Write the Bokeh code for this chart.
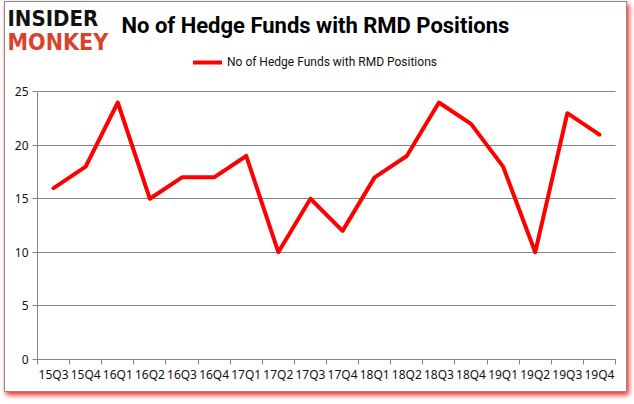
from bokeh.plotting import figure
from bokeh.models import Range1d, FixedTicker, Label, Legend, LegendItem
from bokeh.embed import file_html
from bokeh.resources import INLINE
import numpy as np

quarters = ["15Q3", "15Q4", "16Q1", "16Q2", "16Q3", "16Q4", "17Q1", "17Q2", "17Q3",
            "17Q4", "18Q1", "18Q2", "18Q3", "18Q4", "19Q1", "19Q2", "19Q3", "19Q4"]
funds = [16, 18, 24, 15, 17, 17, 19, 10, 15, 12, 17, 19, 24, 22, 18, 10, 23, 21]
y_ticks = [0, 5, 10, 15, 20, 25]
y_max = 25
series_name = "No of Hedge Funds with RMD Positions"
title_text = "No of Hedge Funds with RMD Positions"
logo_top = "INSIDER"
logo_bottom = "MONKEY"

FONT = "Noto Sans"
GRAY = "#868686"
RED = "#ff0000"

# canvas geometry (pixels)
W, H = 623, 391
PLOT_L, PLOT_R = 32, 610        # data area left/right on canvas
PLOT_T, PLOT_B = 89.3, 356.7    # data area top/bottom on canvas

n = len(quarters)
xpx = (PLOT_R - PLOT_L) / n
ypx = (PLOT_B - PLOT_T) / y_max
x_range = Range1d(-PLOT_L / xpx, n + (W - PLOT_R) / xpx)
y_range = Range1d(-(H - PLOT_B) / ypx, y_max + PLOT_T / ypx)

p = figure(width=W, height=H, output_backend="svg", toolbar_location=None,
           x_range=x_range, y_range=y_range, min_border=0, title=None)
p.styles = {"margin": "1px 0 0 4px", "border": "1px solid #8a8a8a",
            "box-shadow": "2px 3px 5px rgba(255,0,0,0.85)", "background-color": "white"}
p.outline_line_color = None
p.background_fill_color = "white"
p.border_fill_color = "white"

xs = np.arange(n) + 0.5
r = p.line(xs, funds, line_color=RED, line_width=4, line_join="round", line_cap="round")

# grid
p.xgrid.visible = False
p.ygrid.grid_line_color = GRAY
p.ygrid.ticker = FixedTicker(ticks=y_ticks)
p.ygrid.bounds = (0, y_max)
try:
    p.ygrid.cross_bounds = (0, n)
except AttributeError:
    pass

# y axis
p.yaxis.fixed_location = 0
p.yaxis.bounds = (0, y_max)
p.yaxis.ticker = FixedTicker(ticks=y_ticks)
p.yaxis.axis_line_color = GRAY
p.yaxis.major_tick_line_color = GRAY
p.yaxis.major_tick_out = 5
p.yaxis.major_tick_in = 0
p.yaxis.minor_tick_line_color = None
p.yaxis.major_label_text_font = FONT
p.yaxis.major_label_text_font_size = "12px"
p.yaxis.major_label_text_color = "#111111"
p.yaxis.major_label_standoff = 4

# x axis
p.xaxis.fixed_location = 0
p.xaxis.bounds = (0, n)
p.xaxis.ticker = FixedTicker(ticks=list(xs), minor_ticks=list(range(n + 1)))
p.xaxis.major_label_overrides = {float(x): q for x, q in zip(xs, quarters)}
p.xaxis.axis_line_color = GRAY
p.xaxis.major_tick_line_color = None
p.xaxis.minor_tick_line_color = GRAY
p.xaxis.minor_tick_out = 5
p.xaxis.minor_tick_in = 0
p.xaxis.major_label_text_font = FONT
p.xaxis.major_label_text_font_size = "12px"
p.xaxis.major_label_text_color = "#111111"
p.xaxis.major_label_standoff = 1

# legend (row centred at canvas y 59.7)
legend = Legend(items=[LegendItem(label=series_name, renderers=[r])],
                location=(188, H - 67.7), orientation="horizontal",
                padding=0, margin=0, border_line_color=None, background_fill_alpha=0,
                glyph_width=29, glyph_height=16, label_height=16, label_standoff=5,
                label_text_font="Roboto", label_text_font_size="12px",
                label_text_color="#111111")
p.add_layout(legend)

# title and logo (screen units measured from the bottom of the canvas)
logo_font = "'DejaVu Sans Condensed', 'DejaVu Sans', sans-serif"
p.add_layout(Label(x=2, y=H - 15.5, x_units="screen", y_units="screen", text=logo_top,
                   text_font=logo_font, text_font_size="22px", text_font_style="bold",
                   text_color="#111111", text_baseline="middle"))
p.add_layout(Label(x=2, y=H - 39, x_units="screen", y_units="screen", text=logo_bottom,
                   text_font=logo_font, text_font_size="23px", text_font_style="bold",
                   text_color="#d9432c", text_baseline="middle"))
p.add_layout(Label(x=116, y=H - 23, x_units="screen", y_units="screen", text=title_text,
                   text_font="Roboto", text_font_size="22px", text_font_style="bold",
                   text_color="#000000", text_baseline="middle"))

open("out.html", "w").write(file_html(p, INLINE))
